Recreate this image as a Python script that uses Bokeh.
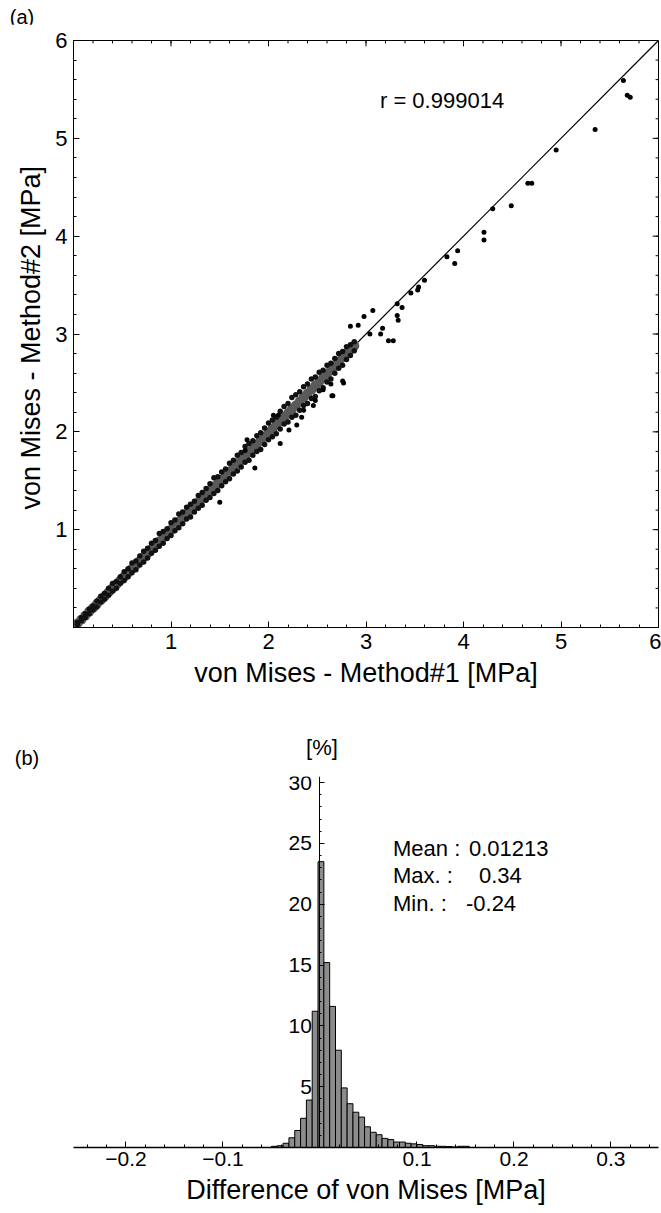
from bokeh.plotting import figure
from bokeh.models import Range1d, FixedTicker, Div
from bokeh.layouts import column
from bokeh.core.properties import value
from bokeh.embed import file_html
from bokeh.resources import INLINE

FONT = "Liberation Sans"

# ---------------- panel (a) data ----------------
band_x = [0.04, 0.08, 0.12, 0.16, 0.20, 0.24, 0.28, 0.32, 0.36, 0.40, 0.44, 0.48,
          0.52, 0.56, 0.60, 0.64, 0.68, 0.72, 0.76, 0.80, 0.84, 0.88, 0.92, 0.96,
          1.00, 1.04, 1.08, 1.12, 1.16, 1.20, 1.24, 1.28, 1.32, 1.36, 1.40, 1.44,
          1.48, 1.52, 1.56, 1.60, 1.64, 1.68, 1.72, 1.76, 1.80, 1.84, 1.88, 1.92,
          1.96, 2.00, 2.04, 2.08, 2.12, 2.16, 2.20, 2.24, 2.28, 2.32, 2.36, 2.40,
          2.44, 2.48, 2.52, 2.56, 2.60, 2.64, 2.68, 2.72, 2.76, 2.80, 2.84, 2.88]
band_up = [0.05, 0.10, 0.14, 0.19, 0.22, 0.27, 0.32, 0.35, 0.40, 0.45, 0.47, 0.52,
           0.57, 0.60, 0.66, 0.68, 0.73, 0.78, 0.81, 0.86, 0.89, 0.96, 0.98, 1.01,
           1.07, 1.10, 1.16, 1.18, 1.23, 1.26, 1.29, 1.35, 1.38, 1.42, 1.47, 1.53,
           1.54, 1.59, 1.62, 1.68, 1.71, 1.76, 1.79, 1.85, 1.88, 1.91, 1.96, 1.99,
           2.04, 2.09, 2.12, 2.15, 2.21, 2.26, 2.29, 2.35, 2.38, 2.41, 2.46, 2.49,
           2.54, 2.56, 2.61, 2.63, 2.68, 2.70, 2.75, 2.80, 2.82, 2.87, 2.89, 2.92]
band_mid = [0.04, 0.08, 0.12, 0.16, 0.20, 0.24, 0.28, 0.32, 0.36, 0.40, 0.44, 0.48,
            0.52, 0.56, 0.60, 0.64, 0.68, 0.72, 0.76, 0.80, 0.84, 0.88, 0.92, 0.96,
            1.00, 1.04, 1.08, 1.12, 1.16, 1.20, 1.24, 1.28, 1.32, 1.36, 1.40, 1.44,
            1.47, 1.51, 1.55, 1.59, 1.64, 1.68, 1.71, 1.75, 1.79, 1.83, 1.87, 1.91,
            1.95, 1.99, 2.03, 2.07, 2.11, 2.15, 2.19, 2.23, 2.27, 2.31, 2.35, 2.39,
            2.43, 2.47, 2.51, 2.55, 2.59, 2.63, 2.67, 2.72, 2.76, 2.80, 2.84, 2.88]
band_lo = [0.03, 0.07, 0.10, 0.14, 0.18, 0.21, 0.26, 0.29, 0.33, 0.37, 0.40, 0.45,
           0.48, 0.52, 0.56, 0.59, 0.64, 0.67, 0.71, 0.76, 0.79, 0.83, 0.86, 0.91,
           0.94, 0.99, 1.02, 1.06, 1.11, 1.13, 1.18, 1.22, 1.25, 1.30, 1.33, 1.37,
           1.40, 1.45, 1.49, 1.52, 1.57, 1.60, 1.64, 1.69, 1.71, 1.76, 1.80, 1.82,
           1.87, 1.92, 1.95, 1.98, 2.03, 2.08, 2.10, 2.15, 2.17, 2.22, 2.27, 2.29,
           2.34, 2.36, 2.42, 2.45, 2.51, 2.54, 2.60, 2.65, 2.68, 2.74, 2.78, 2.83]

out_x = [1.50, 1.86, 1.78, 1.76, 2.05, 2.10, 2.12, 2.21, 2.29, 2.34, 2.36, 2.46,
         2.48, 2.56, 2.64, 2.65, 2.66, 2.76, 2.77, 2.84, 2.92, 2.98, 3.04, 3.07,
         3.15, 3.17, 3.23, 3.28, 3.32, 3.33, 3.32, 3.37, 3.46, 3.53, 3.54, 3.60,
         3.83, 3.91, 3.94, 4.21, 4.21, 4.30, 4.49, 4.66, 4.70, 4.95, 5.35, 5.64,
         5.68, 5.71]
out_y = [1.28, 1.63, 1.92, 1.81, 2.17, 2.17, 1.88, 2.02, 2.07, 2.15, 2.22, 2.27,
         2.32, 2.43, 2.49, 2.37, 2.37, 2.52, 2.50, 3.08, 3.09, 3.18, 3.00, 3.24,
         3.00, 3.06, 2.93, 2.93, 3.19, 3.14, 3.31, 3.27, 3.42, 3.45, 3.48, 3.55,
         3.79, 3.72, 3.85, 4.04, 3.96, 4.28, 4.31, 4.54, 4.54, 4.88, 5.09, 5.59,
         5.44, 5.42]

fit_x = [0.0, 6.0]
fit_y = [0.0, 6.0]
r_text = "r = 0.999014"

ticks_a = [1, 2, 3, 4, 5, 6]
minor_a = [i / 5 for i in range(31)]

# ---------------- panel (b) data ----------------
bin_centers = [-0.047, -0.041, -0.035, -0.029, -0.023, -0.017, -0.011, -0.005,
               0.001, 0.007, 0.013, 0.019, 0.025, 0.031, 0.037, 0.043, 0.049,
               0.055, 0.061, 0.067, 0.073, 0.079, 0.085, 0.091, 0.097, 0.103,
               0.109, 0.115, 0.121, 0.127, 0.133, 0.139, 0.145, 0.151]
bin_pct = [0.1, 0.15, 0.35, 0.8, 1.4, 2.4, 3.9, 11.2,
           23.5, 15.2, 11.6, 8.0, 4.9, 3.6, 2.9, 2.5, 1.7,
           1.25, 1.05, 0.75, 0.65, 0.45, 0.45, 0.35, 0.3, 0.25,
           0.15, 0.15, 0.1, 0.1, 0.08, 0.05, 0.1, 0.1]
bin_width = 0.006

ticks_bx = [-0.2, -0.1, 0.1, 0.2, 0.3]
minor_bx = [round(-0.24 + 0.02 * i, 2) for i in range(31)]
ticks_by = [5, 10, 15, 20, 25, 30]
minor_by = list(range(0, 31))

stats_labels = ["Mean :", "Max. :", "Min. :"]
stats_values = ["0.01213", "0.34", "-0.24"]
stats_y = [24.6, 22.4, 20.1]
stats_vx = [0.1536, 0.1639, 0.1505]


def style_axis(ax, size="22px"):
    ax.major_label_text_font = FONT
    ax.major_label_text_font_size = size
    ax.major_label_text_color = "black"
    ax.axis_label_text_font = FONT
    ax.axis_label_text_font_style = "normal"
    ax.axis_label_text_color = "black"
    ax.axis_line_color = "black"
    ax.major_tick_line_color = "black"
    ax.minor_tick_line_color = "black"


def text_strip(height, items):
    spans = "".join(
        f'<span style="position:absolute;left:{cx}px;top:{cy}px;'
        f'transform:translate(-50%,-50%);font-family:\'{FONT}\';'
        f'font-size:{fs};line-height:1;color:black;white-space:nowrap;">{t}</span>'
        for (cx, cy, t, fs) in items)
    html = (f'<div style="position:relative;width:661px;height:{height}px;'
            f'margin:0;padding:0;">{spans}</div>')
    return Div(text=html, width=661, height=height, margin=0)


# ---------------- header (a) ----------------
hdr_a = text_strip(24, [(22, 17, "(a)", "20px")])

# ---------------- figure (a) ----------------
p1 = figure(width=661, height=676, x_range=Range1d(0, 6), y_range=Range1d(0, 6),
            output_backend="svg", toolbar_location=None,
            min_border_left=73, min_border_right=3, min_border_top=16,
            min_border_bottom=73)
p1.grid.visible = False
p1.outline_line_color = "black"
p1.background_fill_color = "white"
p1.border_fill_color = "white"

for ax in (p1.xaxis[0], p1.yaxis[0]):
    ax.ticker = FixedTicker(ticks=ticks_a, minor_ticks=minor_a)
    style_axis(ax)
    ax.major_tick_in = 6
    ax.major_tick_out = 0
    ax.minor_tick_in = 3
    ax.minor_tick_out = 0
    ax.axis_label_text_font_size = "27px"
p1.xaxis.axis_label = "von Mises - Method#1 [MPa]"
p1.yaxis.axis_label = "von Mises - Method#2  [MPa]"
p1.xaxis.major_label_standoff = 6
p1.xaxis.axis_label_standoff = 6
p1.yaxis.major_label_standoff = 6
p1.yaxis.axis_label_standoff = 6

# ticks along the top and right edges of the frame
n_maj = len(ticks_a)
n_min = len(minor_a)
p1.segment(x0=ticks_a, y0=[6] * n_maj, x1=ticks_a, y1=[5.94] * n_maj,
           line_color="black", line_width=1)
p1.segment(x0=minor_a, y0=[6] * n_min, x1=minor_a, y1=[5.97] * n_min,
           line_color="black", line_width=1)
p1.segment(x0=[6] * n_maj, y0=ticks_a, x1=[5.94] * n_maj, y1=ticks_a,
           line_color="black", line_width=1)
p1.segment(x0=[6] * n_min, y0=minor_a, x1=[5.97] * n_min, y1=minor_a,
           line_color="black", line_width=1)

p1.line(fit_x, fit_y, line_color="black", line_width=1.2)
p1.scatter(band_x, band_mid, size=10, fill_color="#5a5a5a", line_color=None)
p1.scatter(band_x, band_up, size=5.5, fill_color="#111111", line_color=None)
p1.scatter(band_x, band_lo, size=5.5, fill_color="#111111", line_color=None)
p1.scatter(out_x, out_y, size=5, fill_color="black", line_color=None)

p1.text(x=[3.78], y=[5.39], text=[r_text], text_font=value(FONT),
        text_font_size="22px", text_align="center", text_baseline="middle",
        text_color="black")

# ---------------- header (b) ----------------
hdr_b = text_strip(72, [(27, 58, "(b)", "20px"), (322, 48, "[%]", "22px")])

# ---------------- figure (b) ----------------
p2 = figure(width=661, height=441, x_range=Range1d(-0.2541, 0.349),
            y_range=Range1d(0, 30.5),
            output_backend="svg", toolbar_location=None,
            min_border_left=73, min_border_right=3, min_border_top=4,
            min_border_bottom=66)
p2.grid.visible = False
p2.outline_line_color = None
p2.background_fill_color = "white"
p2.border_fill_color = "white"

xa = p2.xaxis[0]
xa.ticker = FixedTicker(ticks=ticks_bx, minor_ticks=minor_bx)
style_axis(xa, "21px")
xa.major_tick_in = 6
xa.major_tick_out = 0
xa.minor_tick_in = 3
xa.minor_tick_out = 0
xa.axis_line_width = 1.5
xa.major_label_standoff = 4
xa.axis_label = "Difference of von Mises [MPa]"
xa.axis_label_text_font_size = "27px"
xa.axis_label_standoff = 6

ya = p2.yaxis[0]
ya.ticker = FixedTicker(ticks=ticks_by, minor_ticks=minor_by)
style_axis(ya, "21px")
ya.fixed_location = 0
ya.major_tick_in = 5
ya.major_tick_out = 0
ya.minor_tick_in = 2
ya.minor_tick_out = 0
ya.major_label_standoff = 8

p2.vbar(x=bin_centers, width=bin_width, top=bin_pct, bottom=0,
        fill_color="#8c8c8c", line_color="black", line_width=1)

p2.text(x=[0.0753] * 3, y=stats_y, text=stats_labels, text_font=value(FONT),
        text_font_size="22px", text_baseline="middle", text_color="black")
p2.text(x=stats_vx, y=stats_y, text=stats_values, text_font=value(FONT),
        text_font_size="22px", text_baseline="middle", text_color="black")

layout = column(hdr_a, p1, hdr_b, p2, spacing=0)
open("out.html", "w").write(file_html(layout, INLINE))
